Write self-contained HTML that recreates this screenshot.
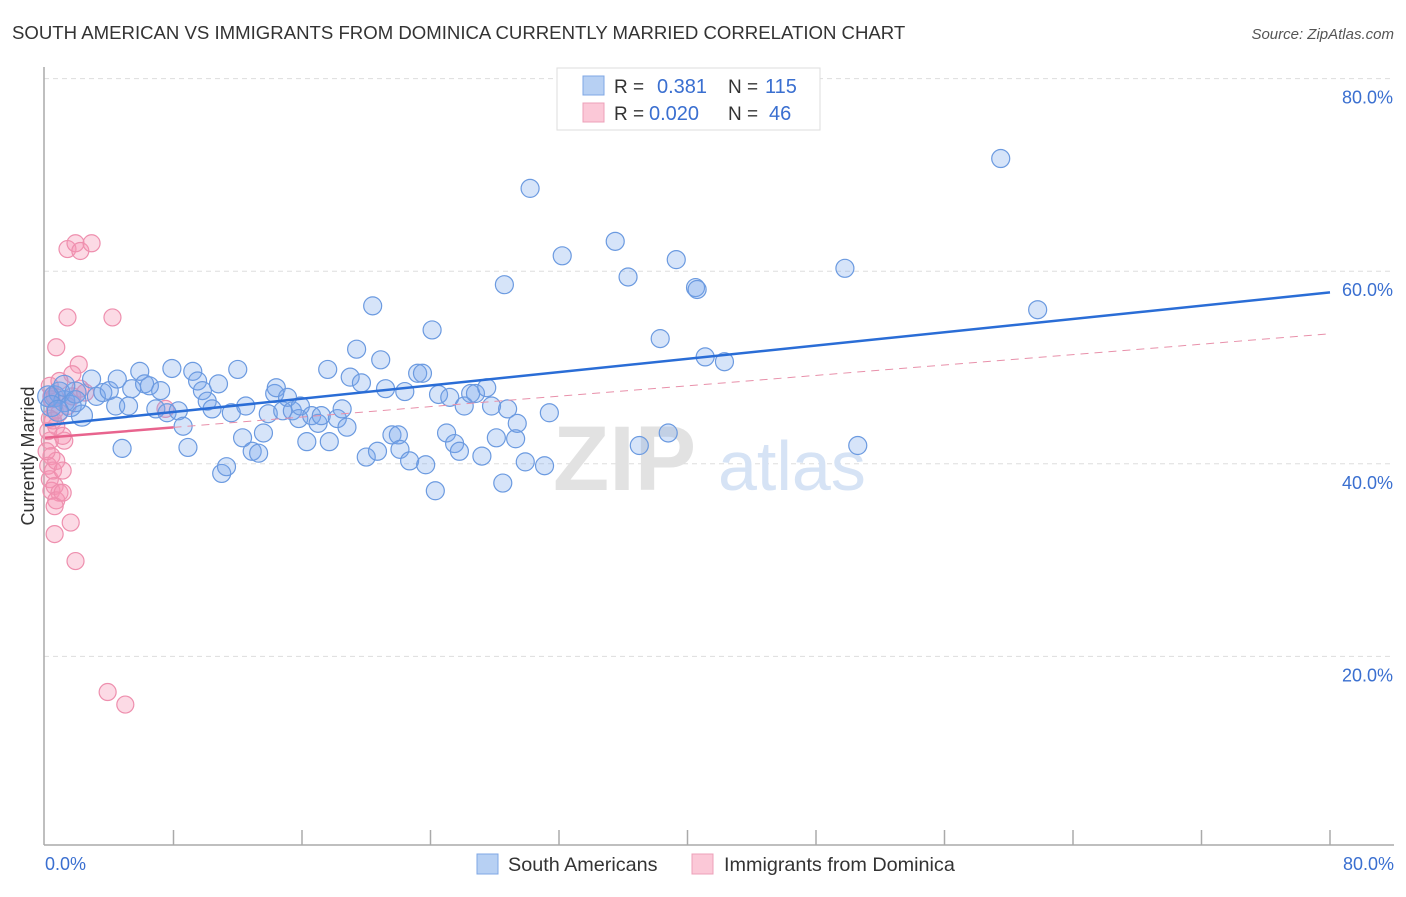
<!DOCTYPE html>
<html><head><meta charset="utf-8"><style>
body{margin:0;background:#fff;font-family:"Liberation Sans",sans-serif;}
svg text{font-family:"Liberation Sans",sans-serif;}
</style></head><body>
<svg id="chart" width="1406" height="892" viewBox="0 0 1406 892" xmlns="http://www.w3.org/2000/svg">
<text x="12" y="39" font-size="18.6" fill="#333">SOUTH AMERICAN VS IMMIGRANTS FROM DOMINICA CURRENTLY MARRIED CORRELATION CHART</text>
<text x="1394" y="39" font-size="15" fill="#555" font-style="italic" text-anchor="end">Source: ZipAtlas.com</text>
<g id="grid"></g>
<g>
<text x="553" y="490" font-size="92" font-family="Liberation Serif" font-weight="bold" fill="#e2e2e2">ZIP</text>
<text x="718" y="490" font-size="70" fill="#d6e3f5">atlas</text>
</g>
<line x1="44" y1="67" x2="44" y2="845" stroke="#aaa" stroke-width="1.5"/>
<line x1="44" y1="845" x2="1394" y2="845" stroke="#aaa" stroke-width="1.5"/>
<g id="xticks"></g>
<g id="ylabels"></g>
<text x="45" y="870" font-size="18" fill="#3a6fd0">0.0%</text>
<text x="1394" y="870" font-size="18" fill="#3a6fd0" text-anchor="end">80.0%</text>
<text transform="translate(34,456) rotate(-90)" font-size="18" fill="#333" text-anchor="middle">Currently Married</text>
<g id="pink"></g>
<g id="blue"></g>
<g id="trends"></g>
<g>
<rect x="557" y="68" width="263" height="62" fill="#fff" stroke="#ddd"/>
<rect x="583" y="76" width="21" height="19" fill="#b7d0f3" stroke="#7fa7e4"/>
<rect x="583" y="103" width="21" height="19" fill="#fbc8d7" stroke="#eda0b8"/>
<text x="614" y="93" font-size="19" fill="#333">R =</text>
<text x="657" y="93" font-size="20" fill="#3a6fd0">0.381</text>
<text x="728" y="93" font-size="19" fill="#333">N =</text>
<text x="765" y="93" font-size="20" fill="#3a6fd0">115</text>
<text x="614" y="120" font-size="19" fill="#333">R =</text>
<text x="649" y="120" font-size="20" fill="#3a6fd0">0.020</text>
<text x="728" y="120" font-size="19" fill="#333">N =</text>
<text x="769" y="120" font-size="20" fill="#3a6fd0">46</text>
</g>
<g>
<rect x="477" y="854" width="21" height="20" fill="#b7d0f3" stroke="#7fa7e4"/>
<text x="508" y="871" font-size="19.8" fill="#333">South Americans</text>
<rect x="692" y="854" width="21" height="20" fill="#fbc8d7" stroke="#eda0b8"/>
<text x="724" y="871" font-size="19.8" fill="#333">Immigrants from Dominica</text>
</g>
</svg>
<script>
const blueX=[0.6,0.9,1.2,1.6,1.9,1.2,2.3,2.9,3.2,3.6,4.0,4.4,4.5,4.8,5.2,5.4,5.9,6.2,6.5,6.9,7.2,7.6,7.9,8.3,8.6,8.9,9.2,9.5,9.8,10.1,10.4,10.8,11.0,11.3,11.6,12.0,12.3,12.5,12.9,13.3,13.6,13.9,14.3,14.4,14.8,15.1,15.4,15.8,15.9,16.3,16.6,17.0,17.2,17.6,17.7,18.2,18.5,18.8,19.0,19.4,19.7,20.0,20.4,20.7,20.9,21.2,21.6,22.0,22.1,22.4,22.7,23.2,23.5,23.7,24.1,24.3,24.5,25.0,25.2,25.5,25.8,26.1,26.5,26.8,27.2,27.5,27.8,28.1,28.5,28.6,28.8,29.3,29.4,29.9,30.2,31.1,31.4,32.2,35.5,36.3,37.0,38.3,38.8,39.3,40.5,40.6,41.1,42.3,49.8,50.6,59.5,61.8,0.2,0.4,0.8,1.9];
const blueY=[47.0,47.4,46.5,46.0,47.4,48.1,45.0,48.8,47.0,47.4,47.6,46.0,48.8,41.6,46.0,47.8,49.6,48.3,48.1,45.7,47.6,45.3,49.9,45.5,43.9,41.7,49.6,48.6,47.6,46.5,45.7,48.3,39.0,39.7,45.3,49.8,42.7,46.0,41.3,41.1,43.2,45.2,47.3,47.9,45.5,46.9,45.5,44.7,46.0,42.3,45.0,44.2,45.0,49.8,42.3,44.7,45.7,43.8,49.0,51.9,48.4,40.7,56.4,41.3,50.8,47.8,43.0,43.0,41.5,47.5,40.3,49.4,49.4,39.9,53.9,37.2,47.2,43.2,46.9,42.1,41.3,46.0,47.3,47.3,40.8,47.9,46.0,42.7,38.0,58.6,45.7,42.6,44.2,40.2,68.6,39.8,45.3,61.6,63.1,59.4,41.9,53.0,43.2,61.2,58.3,58.1,51.1,50.6,60.3,41.9,71.7,56.0,47.0,46.0,45.5,46.5];
const pinkX=[0.3,0.4,0.6,0.5,0.7,0.9,1.2,0.3,0.4,0.2,0.3,0.4,0.6,0.9,0.7,0.6,1.1,1.6,0.6,1.9,1.4,1.9,2.2,2.9,1.4,4.2,0.7,2.1,1.7,3.9,5.0,7.5,0.4,0.2,0.5,0.7,1.1,0.1,1.4,1.7,2.2,2.5,0.9,0.3,0.6,1.1];
const pinkY=[48.1,47.0,45.5,44.5,43.9,45.3,42.4,42.4,40.8,39.8,38.4,37.2,37.7,37.0,36.2,35.6,37.0,33.9,32.7,29.9,62.3,62.9,62.1,62.9,55.2,55.2,52.1,50.3,49.3,16.3,15.0,45.7,46.7,43.4,39.3,40.3,42.9,41.3,46.0,47.0,47.8,47.4,48.6,44.7,47.0,39.3];
const yTicks=[20,40,60,80];
const yTickLabels=["20.0%","40.0%","60.0%","80.0%"];
const xTicks=[8,16,24,32,40,48,56,64,72,80];
const blueTrend=[44.0,57.8];
const pinkTrend=[42.7,53.5];
const pinkSolidEnd=8;
const NS="http://www.w3.org/2000/svg";
const sx=v=>45+v*(1285/80);
const sy=v=>849-v*9.63;
function mk(tag,attrs,parent){const e=document.createElementNS(NS,tag);for(const k in attrs)e.setAttribute(k,attrs[k]);parent.appendChild(e);return e;}
const grid=document.getElementById('grid'),yl=document.getElementById('ylabels'),xt=document.getElementById('xticks');
yTicks.forEach((t,i)=>{
 const l=mk('line',{x1:44,x2:1394,y1:sy(t),y2:sy(t),stroke:'#ddd','stroke-dasharray':'5,4'},grid);
 
 
 const tx=mk('text',{x:1393,y:sy(t)+25,'font-size':18,fill:'#3a6fd0','text-anchor':'end'},yl);
 tx.textContent=yTickLabels[i];
 
 
});
for(let i=0;i<xTicks.length;i++){
 const v=xTicks[i];
 const l=mk('line',{x1:sx(v),x2:sx(v),y1:830,y2:845,stroke:'#aaa','stroke-width':1.5},xt);
 
 
}
const pg=document.getElementById('pink');
pinkX.forEach((x,i)=>{
 const c=mk('circle',{cx:sx(x),cy:sy(pinkY[i]),r:8.5,fill:'rgba(245,150,180,0.35)',stroke:'#ee8fae','stroke-width':1.2},pg);
 
 
});
const bg=document.getElementById('blue');
blueX.forEach((x,i)=>{
 const c=mk('circle',{cx:sx(x),cy:sy(blueY[i]),r:(x<2.5?10.5:9),fill:'rgba(120,165,235,0.3)',stroke:'#6b9ae0','stroke-width':1.2},bg);
 
 
});
const tg=document.getElementById('trends');
const pEnd=pinkTrend[0]+(pinkTrend[1]-pinkTrend[0])*pinkSolidEnd/80;
const pd=mk('line',{x1:sx(pinkSolidEnd),y1:sy(pEnd),x2:sx(80),y2:sy(pinkTrend[1]),stroke:'#e890aa','stroke-width':1,'stroke-dasharray':'8,6'},tg);


const ps=mk('line',{x1:sx(0),y1:sy(pinkTrend[0]),x2:sx(pinkSolidEnd),y2:sy(pEnd),stroke:'#e8648e','stroke-width':2.5},tg);


const bl=mk('line',{x1:sx(0),y1:sy(blueTrend[0]),x2:sx(80),y2:sy(blueTrend[1]),stroke:'#2a6dd6','stroke-width':2.5},tg);


</script>
</body></html>
